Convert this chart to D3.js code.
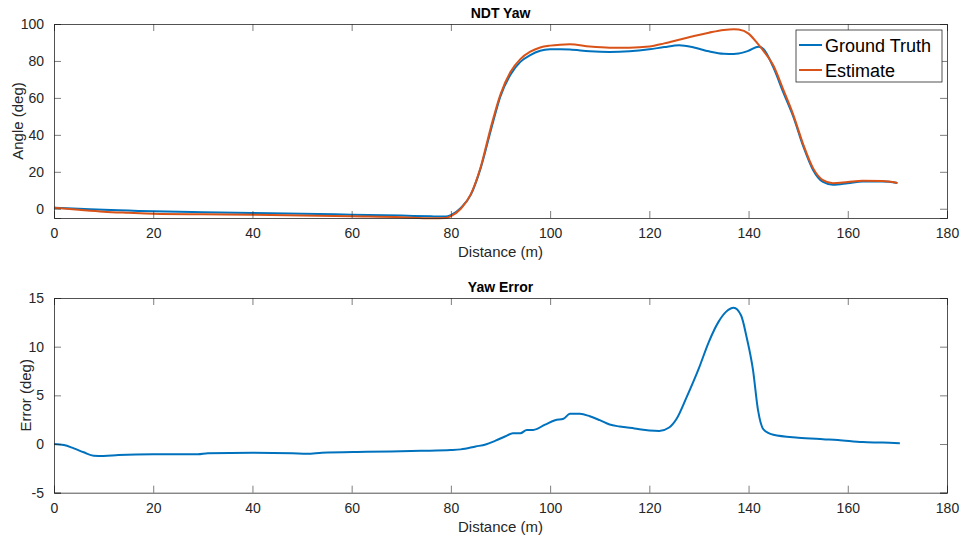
<!DOCTYPE html>
<html>
<head>
<meta charset="utf-8">
<script src="https://cdn.jsdelivr.net/npm/d3@7"></script>
<style>
  html, body { margin: 0; padding: 0; background: #fff; }
  svg { display: block; font-family: "Liberation Sans", Arial, Helvetica, sans-serif; }
</style>
</head>
<body>
<svg id="chart" width="964" height="540"></svg>
<script>
// Yaw angle along the driven path (degrees vs. distance in metres)
const yawDistance = [0, 5, 10, 15, 20, 30, 40, 50, 60, 70, 76, 79, 80, 82, 84, 86, 88, 90, 92, 94, 96, 98, 100, 102, 104, 108, 112, 116, 120, 123, 126, 129, 132, 135, 137, 138, 140, 142, 143, 145, 147, 149, 151, 153, 155, 157, 160, 163, 167, 170];
const groundTruth = [0.5, 0, -0.6, -1.0, -1.4, -1.9, -2.3, -2.7, -3.2, -3.7, -4.1, -4.2, -3.4, 0.5, 7.5, 22, 42, 61, 72.5, 79.5, 83.2, 85.5, 86.3, 86.4, 86.2, 85.2, 84.8, 85.2, 86.3, 87.5, 88.5, 87.3, 85.2, 83.9, 83.8, 84, 85.5, 87.7, 86.5, 76.5, 63, 50, 34, 21, 14.5, 13, 13.8, 14.8, 14.8, 14];
const estimate = [0.5, -0.6, -1.6, -2.2, -2.7, -3.0, -3.2, -3.6, -4.1, -4.6, -5.2, -5.0, -4.0, 0, 7.8, 22.5, 43.5, 62, 74, 81, 85, 87.3, 88.3, 88.8, 89, 87.8, 87.2, 87.2, 87.8, 89.5, 91.5, 93.5, 95.3, 96.8, 97.2, 97, 94.8, 88.8, 85.5, 77.5, 64.5, 51, 35, 22, 15.5, 13.8, 14.5, 15.2, 15, 14];

// Yaw error (estimate minus ground truth)
const errDistance = [0, 2, 4, 6, 8, 10, 13, 20, 29, 31, 40, 48, 51, 54, 63, 74, 80, 82, 85, 87, 89, 91, 92.5, 94, 95.3, 96.6, 99, 101, 102.7, 104, 106, 108, 110, 112, 114, 117, 120, 122, 124, 125.5, 127.5, 130, 132, 134, 135.5, 137, 138.5, 139.6, 140.9, 141.9, 143, 145, 150, 155, 158, 163, 167, 170.5];
const yawError = [0, -0.1, -0.45, -0.85, -1.2, -1.22, -1.13, -1.06, -1.06, -0.96, -0.9, -0.95, -1.0, -0.9, -0.8, -0.7, -0.62, -0.55, -0.25, -0.05, 0.35, 0.8, 1.1, 1.1, 1.45, 1.45, 2.0, 2.45, 2.6, 3.1, 3.1, 2.85, 2.45, 2.0, 1.8, 1.6, 1.4, 1.35, 1.7, 2.6, 4.8, 7.8, 10.5, 12.6, 13.6, 14.0, 13.2, 11.0, 7.6, 3.5, 1.5, 0.95, 0.65, 0.5, 0.42, 0.2, 0.15, 0.07];

const xTicks = [0, 20, 40, 60, 80, 100, 120, 140, 160, 180];
const yawTicks = [0, 20, 40, 60, 80, 100];
const errTicks = [-5, 0, 5, 10, 15];
const seriesNames = ["Ground Truth", "Estimate"];
const seriesColors = ["#0072BD", "#D95319"];

const svg = d3.select("#chart");
const axisColor = "#262626";
const plotLeft = 54, plotRight = 947;
const plainNumber = d => String(d);

function drawPanel(cfg) {
  const x = d3.scaleLinear().domain([0, 180]).range([plotLeft, plotRight]);
  const y = d3.scaleLinear().domain(cfg.yDomain).range([cfg.bottom, cfg.top]);
  const g = svg.append("g");

  // series lines first, axes box over them
  cfg.series.forEach(s => {
    const line = d3.line()
      .x((d, k) => x(s.xs[k]))
      .y(d => y(d))
      .curve(d3.curveMonotoneX);
    g.append("path")
      .datum(s.ys)
      .attr("fill", "none")
      .attr("stroke", s.color)
      .attr("stroke-width", 2)
      .attr("stroke-linejoin", "round")
      .attr("d", line);
  });

  // box-style axes with inward ticks on all four sides
  const axes = [
    [d3.axisBottom(x).tickValues(xTicks).tickFormat(plainNumber).tickSize(-7).tickPadding(10), cfg.bottom, 0, true],
    [d3.axisTop(x).tickValues(xTicks).tickSize(-7), cfg.top, 0, false],
    [d3.axisLeft(y).tickValues(cfg.yTicks).tickFormat(plainNumber).tickSize(-7).tickPadding(10), 0, plotLeft, true],
    [d3.axisRight(y).tickValues(cfg.yTicks).tickSize(-7), 0, plotRight, false]
  ];
  axes.forEach(([ax, ty, tx, labels]) => {
    const a = g.append("g").attr("transform", `translate(${tx},${ty})`).call(ax);
    a.select(".domain").attr("stroke", axisColor).attr("stroke-width", 0.8);
    a.selectAll(".tick line").attr("stroke", axisColor).attr("stroke-width", 0.6);
    a.selectAll(".tick text")
      .attr("fill", axisColor)
      .style("font-size", "14px")
      .style("font-family", "'Liberation Sans', Arial, sans-serif")
      .style("display", labels ? null : "none");
  });

  g.append("text")
    .attr("x", (plotLeft + plotRight) / 2).attr("y", cfg.top - 6)
    .attr("text-anchor", "middle")
    .style("font-size", "14px").style("font-weight", "bold")
    .attr("fill", "#000")
    .text(cfg.title);

  g.append("text")
    .attr("x", (plotLeft + plotRight) / 2).attr("y", cfg.bottom + 39)
    .attr("text-anchor", "middle")
    .style("font-size", "15px")
    .attr("fill", axisColor)
    .text("Distance (m)");

  g.append("text")
    .attr("transform", `translate(${cfg.yLabelX},${(cfg.top + cfg.bottom) / 2}) rotate(-90)`)
    .attr("text-anchor", "middle")
    .style("font-size", "15px")
    .attr("fill", axisColor)
    .text(cfg.yLabel);

  return { x, y, g };
}

drawPanel({
  top: 24, bottom: 218, yDomain: [-5, 100], yTicks: yawTicks,
  title: "NDT Yaw", yLabel: "Angle (deg)", yLabelX: 23,
  series: [
    { xs: yawDistance, ys: groundTruth, color: seriesColors[0] },
    { xs: yawDistance, ys: estimate, color: seriesColors[1] }
  ]
});

drawPanel({
  top: 298, bottom: 492.7, yDomain: [-5, 15], yTicks: errTicks,
  title: "Yaw Error", yLabel: "Error (deg)", yLabelX: 31,
  series: [{ xs: errDistance, ys: yawError, color: seriesColors[0] }]
});

// legend for the yaw panel
const legend = svg.append("g");
legend.append("rect")
  .attr("x", 796).attr("y", 30).attr("width", 146).attr("height", 52)
  .attr("fill", "#fff").attr("stroke", axisColor).attr("stroke-width", 0.8);
seriesNames.forEach((name, i) => {
  const cy = 45 + i * 25;
  legend.append("line")
    .attr("x1", 799).attr("x2", 822).attr("y1", cy).attr("y2", cy)
    .attr("stroke", seriesColors[i]).attr("stroke-width", 2);
  legend.append("text")
    .attr("x", 825).attr("y", cy + 6.5)
    .style("font-size", "18px")
    .attr("fill", "#000")
    .text(name);
});
</script>
</body>
</html>
